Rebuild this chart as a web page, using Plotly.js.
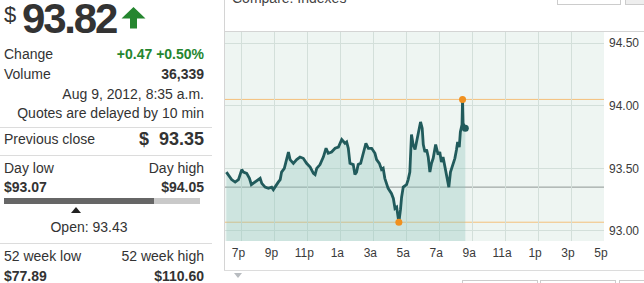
<!DOCTYPE html>
<html>
<head>
<meta charset="utf-8">
<script src="https://cdn.plot.ly/plotly-3.0.1.min.js"></script>
<style>
  html, body { margin:0; padding:0; width:644px; height:283px; overflow:hidden; background:#fff;
    font-family: Arial, "Liberation Sans", sans-serif; color:#333; }
  .a { position:absolute; white-space:nowrap; font-size:14px; line-height:16px; z-index:2; }
  .r { text-align:right; }
  .b { font-weight:bold; }
  .g { color:#25862f; }
  .hl { position:absolute; height:1px; background:#dcdcdc; z-index:2; }
  #chart { position:absolute; left:0; top:0; width:644px; height:283px; z-index:0; }
</style>
</head>
<body>
<div id="chart"></div>
<div id="panel"></div>
<script>
// ---------- data ----------
const lastPrice = 93.82;
const changeAbs = 0.47;
const changePct = 0.50;
const volume = "36,339";
const quoteTime = "Aug 9, 2012, 8:35 a.m.";
const delayNote = "Quotes are delayed by 10 min";
const prevClose = 93.35;
const dayLow = 93.07;
const dayHigh = 94.05;
const openPrice = 93.43;
const week52Low = 77.89;
const week52High = 110.60;

const times = [
"2012-08-08 18:05","2012-08-08 18:24","2012-08-08 18:37","2012-08-08 18:49","2012-08-08 19:01","2012-08-08 19:07","2012-08-08 19:19","2012-08-08 19:29","2012-08-08 19:36","2012-08-08 19:50",
"2012-08-08 20:02","2012-08-08 20:08","2012-08-08 20:14","2012-08-08 20:26","2012-08-08 20:38","2012-08-08 20:50","2012-08-08 20:56","2012-08-08 21:06","2012-08-08 21:14","2012-08-08 21:21",
"2012-08-08 21:26","2012-08-08 21:36","2012-08-08 21:51","2012-08-08 21:57","2012-08-08 22:09","2012-08-08 22:21","2012-08-08 22:33","2012-08-08 22:45","2012-08-08 22:57","2012-08-08 23:10",
"2012-08-08 23:22","2012-08-08 23:28","2012-08-08 23:34","2012-08-08 23:46","2012-08-08 23:58","2012-08-09 00:08","2012-08-09 00:16","2012-08-09 00:28","2012-08-09 00:41","2012-08-09 00:53",
"2012-08-09 01:05","2012-08-09 01:17","2012-08-09 01:23","2012-08-09 01:29","2012-08-09 01:35","2012-08-09 01:47","2012-08-09 01:53","2012-08-09 01:59","2012-08-09 02:05","2012-08-09 02:14",
"2012-08-09 02:24","2012-08-09 02:33","2012-08-09 02:42","2012-08-09 02:54","2012-08-09 03:06","2012-08-09 03:12","2012-08-09 03:22","2012-08-09 03:30","2012-08-09 03:36","2012-08-09 03:42",
"2012-08-09 03:54","2012-08-09 04:06","2012-08-09 04:13","2012-08-09 04:19","2012-08-09 04:25","2012-08-09 04:28","2012-08-09 04:33","2012-08-09 04:39","2012-08-09 04:43","2012-08-09 04:49",
"2012-08-09 05:01","2012-08-09 05:07","2012-08-09 05:13","2012-08-09 05:19","2012-08-09 05:25","2012-08-09 05:32","2012-08-09 05:37","2012-08-09 05:44","2012-08-09 05:52","2012-08-09 05:58",
"2012-08-09 06:02","2012-08-09 06:08","2012-08-09 06:14","2012-08-09 06:20","2012-08-09 06:26","2012-08-09 06:32","2012-08-09 06:38","2012-08-09 06:47","2012-08-09 06:56","2012-08-09 07:02",
"2012-08-09 07:08","2012-08-09 07:14","2012-08-09 07:21","2012-08-09 07:29","2012-08-09 07:35","2012-08-09 07:41","2012-08-09 07:51","2012-08-09 07:57","2012-08-09 08:03","2012-08-09 08:07",
"2012-08-09 08:13","2012-08-09 08:17","2012-08-09 08:23","2012-08-09 08:25","2012-08-09 08:27","2012-08-09 08:35"];

const prices = [
93.47,93.41,93.39,93.41,93.49,93.47,93.46,93.42,93.37,93.39,
93.41,93.42,93.38,93.35,93.34,93.35,93.33,93.37,93.39,93.41,
93.47,93.50,93.63,93.57,93.54,93.57,93.59,93.58,93.54,93.51,
93.46,93.45,93.50,93.53,93.59,93.66,93.62,93.63,93.66,93.67,
93.73,93.70,93.71,93.66,93.54,93.53,93.45,93.47,93.53,93.54,
93.63,93.70,93.66,93.66,93.62,93.57,93.54,93.49,93.50,93.42,
93.34,93.30,93.26,93.18,93.19,93.13,93.07,93.17,93.27,93.35,
93.37,93.41,93.47,93.77,93.69,93.65,93.71,93.79,93.87,93.82,
93.69,93.63,93.65,93.59,93.47,93.54,93.58,93.69,93.61,93.63,
93.55,93.59,93.50,93.42,93.35,93.47,93.54,93.58,93.65,93.71,
93.67,93.79,93.85,94.05,93.86,93.82];

const tickTimes = ["2012-08-08 19:00","2012-08-08 21:00","2012-08-08 23:00","2012-08-09 01:00","2012-08-09 03:00","2012-08-09 05:00",
                   "2012-08-09 07:00","2012-08-09 09:00","2012-08-09 11:00","2012-08-09 13:00","2012-08-09 15:00","2012-08-09 17:00"];
const tickLabels = ["7p","9p","11p","1a","3a","5a","7a","9a","11a","1p","3p","5p"];
const yTicks = [93.00, 93.50, 94.00, 94.50];
const xRange = ["2012-08-08 18:00","2012-08-09 17:00"];
const yRange = [92.92, 94.588];

// ---------- chart ----------
let hiIdx = 0, loIdx = 0;
prices.forEach((p,i)=>{ if (p>prices[hiIdx]) hiIdx=i; if (p<prices[loIdx]) loIdx=i; });
const lastIdx = prices.length-1;

const LINE = '#215b5c';
const ORANGE = '#f0901f';

const traces = [
  { type:'scatter', mode:'lines', x:times, y:prices, fill:'tozeroy',
    fillcolor:'rgba(140,196,188,0.34)', line:{color:LINE, width:2.8, shape:'linear'}, hoverinfo:'skip' },
  { type:'scatter', mode:'markers', x:[times[hiIdx], times[loIdx]], y:[prices[hiIdx], prices[loIdx]],
    marker:{color:ORANGE, size:7}, hoverinfo:'skip' },
  { type:'scatter', mode:'markers', x:[times[lastIdx]], y:[prices[lastIdx]],
    marker:{color:LINE, size:7}, hoverinfo:'skip' }
];

function hline(y, color){
  return { type:'line', xref:'paper', x0:0, x1:1, yref:'y', y0:y, y1:y, layer:'between',
           line:{color:color, width:1} };
}

const layout = {
  width:644, height:283,
  margin:{l:225, r:40, t:32, b:42, pad:0},
  paper_bgcolor:'rgba(0,0,0,0)',
  plot_bgcolor:'#eef5f2',
  showlegend:false,
  font:{family:'Arial, "Liberation Sans", sans-serif', size:12, color:'#3a3a3a'},
  xaxis:{ type:'date', range:xRange, tickvals:tickTimes, ticktext:tickLabels,
          showgrid:true, gridcolor:'#d3dfda', gridwidth:1, zeroline:false, showline:false,
          ticks:'', fixedrange:true, ticklabelshift:-3, ticklabelstandoff:3 },
  yaxis:{ side:'right', range:yRange, tickvals:yTicks, tickformat:'.2f',
          showgrid:true, gridcolor:'#d3dfda', gridwidth:1, zeroline:false, showline:false,
          ticks:'', fixedrange:true, ticklabelstandoff:4 },
  shapes:[ hline(dayHigh, '#f4c07a'), hline(dayLow, '#f4c07a'), hline(prevClose, '#8f9693') ]
};

Plotly.newPlot('chart', traces, layout, {staticPlot:true, displayModeBar:false});

// ---------- left panel & frame ----------
const panel = document.getElementById('panel');
function add(html){ panel.insertAdjacentHTML('beforeend', html); }
function txt(x, yc, s, cls, extra){
  const top = yc - 8;
  if (cls && cls.indexOf('r')>=0) add(`<div class="a ${cls}" style="right:${644-x}px;top:${top}px;${extra||''}">${s}</div>`);
  else add(`<div class="a ${cls||''}" style="left:${x}px;top:${top}px;${extra||''}">${s}</div>`);
}
const f2 = v => v.toFixed(2);

// big price
add(`<div class="a" style="left:4px;top:3px;font-size:22px;line-height:24px;">$</div>`);
add(`<div class="a b" style="left:22px;top:0px;font-size:42px;line-height:37px;letter-spacing:-2.2px;">${f2(lastPrice)}</div>`);
add(`<svg style="position:absolute;left:121px;top:7px;z-index:2" width="25" height="22" viewBox="0 0 25 22">
  <polygon points="12.5,0 24.5,11.5 16,11.5 16,21.5 9,21.5 9,11.5 0.5,11.5" fill="#25862f"/></svg>`);

txt(4, 54, 'Change');
txt(204, 54, `+${f2(changeAbs)} +${f2(changePct)}%`, 'r b g');
txt(4, 74, 'Volume');
txt(204, 74, volume, 'r b');
txt(204, 94, quoteTime, 'r');
txt(204, 113, delayNote, 'r');
add(`<div class="hl" style="left:0;width:212px;top:127px"></div>`);
txt(4, 139, 'Previous close');
add(`<div class="a r b" style="right:${644-204}px;top:129px;font-size:18px;line-height:20px;">$&nbsp; ${f2(prevClose)}</div>`);
add(`<div class="hl" style="left:0;width:212px;top:155px"></div>`);
txt(4, 168, 'Day low');
txt(204, 168, 'Day high', 'r');
txt(4, 187, '$'+f2(dayLow), 'b');
txt(204, 187, '$'+f2(dayHigh), 'r b');
// range bar
const bx0 = 4, bx1 = 200;
const fr = (lastPrice - dayLow)/(dayHigh - dayLow);
const fo = (openPrice - dayLow)/(dayHigh - dayLow);
const bxm = bx0 + fr*(bx1-bx0);
const ox = bx0 + fo*(bx1-bx0);
add(`<div style="position:absolute;left:${bx0}px;top:198px;width:${bxm-bx0}px;height:6px;background:#666;z-index:2"></div>`);
add(`<div style="position:absolute;left:${bxm}px;top:198px;width:${bx1-bxm}px;height:6px;background:#c9c9c9;z-index:2"></div>`);
add(`<svg style="position:absolute;left:${ox-5}px;top:207px;z-index:2" width="10" height="6"><polygon points="5,0 10,6 0,6" fill="#222"/></svg>`);
txt(ox+13, 227, 'Open: '+f2(openPrice), '', 'transform:translateX(-50%);');
add(`<div class="hl" style="left:0;width:212px;top:243px"></div>`);
txt(4, 256, '52 week low');
txt(204, 256, '52 week high', 'r');
txt(4, 276, '$'+f2(week52Low), 'b');
txt(204, 276, '$'+f2(week52High), 'r b');

// chart frame
add(`<div style="position:absolute;left:224px;top:0;width:1px;height:271px;background:#d4d4d4;z-index:2"></div>`);
add(`<div style="position:absolute;left:224px;top:31px;width:420px;height:1px;background:#d4d4d4;z-index:2"></div>`);
add(`<div style="position:absolute;left:224px;top:270px;width:420px;height:1px;background:#dcdcdc;z-index:2"></div>`);
add(`<div class="a" style="left:232px;top:-10px;color:#444;">Compare: Indexes</div>`);
add(`<div style="position:absolute;left:557px;top:-1px;width:62px;height:4px;border:1px solid #ccc;background:#fff;z-index:2"></div>`);
add(`<div style="position:absolute;left:625px;top:-1px;width:25px;height:4px;border:1px solid #ccc;background:#eee;z-index:2"></div>`);
add(`<svg style="position:absolute;left:234px;top:273px;z-index:2" width="8" height="5"><polygon points="0,0 8,0 4,5" fill="#b8bcc0"/></svg>`);
add(`<div style="position:absolute;left:462px;top:280px;width:74px;height:6px;border:1px solid #ccc;background:#fff;z-index:2"></div>`);
add(`<div style="position:absolute;left:540px;top:280px;width:74px;height:6px;border:1px solid #ccc;background:#fff;z-index:2"></div>`);
add(`<div style="position:absolute;left:619px;top:280px;width:30px;height:6px;border:1px solid #ccc;background:#fff;z-index:2"></div>`);
</script>
</body>
</html>
